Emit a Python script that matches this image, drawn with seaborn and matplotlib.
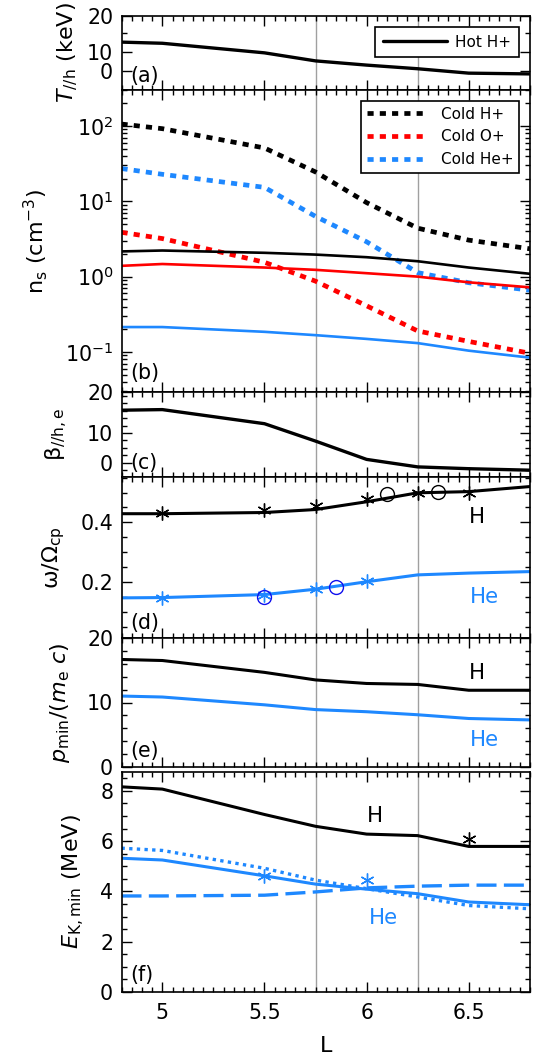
import numpy as np
import pandas as pd
import matplotlib
matplotlib.use("Agg")
import matplotlib.pyplot as plt
from matplotlib.ticker import FixedLocator, FixedFormatter, MultipleLocator, LogLocator, NullFormatter
import seaborn as sns

sns.set_theme(style="ticks")
plt.rcParams["font.family"] = ["DejaVu Sans"]
plt.rcParams["mathtext.fontset"] = "dejavusans"
for k in ("text.color", "axes.labelcolor", "xtick.color", "ytick.color",
          "xtick.labelcolor", "ytick.labelcolor", "axes.edgecolor"):
    plt.rcParams[k] = "black"

# L grid
L = [4.8, 5.0, 5.5, 5.75, 6.0, 6.25, 6.5, 6.8]

# (a) hot H+ parallel temperature (keV)
T_hot = [15.3, 14.7, 9.7, 5.5, 3.3, 1.4, -0.9, -1.3]

# (b) densities (cm^-3)
n_cold_H = [106, 92, 51, 24.5, 9.6, 4.4, 3.05, 2.34]
n_cold_O = [3.87, 3.2, 1.55, 0.87, 0.41, 0.19, 0.138, 0.096]
n_cold_He = [27.2, 22.8, 15.3, 6.3, 2.9, 1.13, 0.83, 0.66]
n_hot_H = [2.16, 2.22, 2.07, 1.96, 1.81, 1.60, 1.32, 1.09]
n_hot_O = [1.39, 1.47, 1.32, 1.23, 1.11, 1.0, 0.84, 0.72]
n_hot_He = [0.214, 0.214, 0.185, 0.167, 0.149, 0.131, 0.104, 0.084]

# (c) beta
beta = [17.6, 17.8, 13.1, 7.3, 1.2, -1.3, -1.9, -2.4]

# (d) omega / Omega_cp
w_H = [0.429, 0.429, 0.433, 0.443, 0.469, 0.499, 0.503, 0.520]
w_He = [0.147, 0.148, 0.158, 0.176, 0.201, 0.224, 0.230, 0.235]
star_H_L = [5.0, 5.5, 5.75, 6.0, 6.25, 6.5]
star_H_w = [0.432, 0.440, 0.454, 0.477, 0.499, 0.499]
star_He_L = [5.0, 5.5, 5.75, 6.0]
star_He_w = [0.145, 0.158, 0.176, 0.204]
circ_H_L = [6.10, 6.35]
circ_H_w = [0.495, 0.503]
circ_He_L = [5.5, 5.85]
circ_He_w = [0.150, 0.184]

# (e) p_min / (m_e c)
p_H = [16.67, 16.51, 14.67, 13.5, 12.95, 12.8, 11.9, 11.9]
p_He = [11.0, 10.85, 9.64, 8.9, 8.57, 8.1, 7.52, 7.3]

# (f) E_K,min (MeV)
E_H = [8.16, 8.07, 7.06, 6.59, 6.28, 6.22, 5.79, 5.79]
E_He = [5.32, 5.25, 4.62, 4.29, 4.09, 3.91, 3.58, 3.47]
E_He_dot = [5.72, 5.63, 4.92, 4.45, 4.11, 3.78, 3.44, 3.31]
E_He_dash = [3.82, 3.82, 3.85, 3.98, 4.14, 4.21, 4.25, 4.25]
starE_H_L = [6.5]
starE_H = [6.08]
starE_He_L = [5.5, 6.0]
starE_He = [4.62, 4.45]

BLUE = "#1E88FF"
GRAY = "#a0a0a0"
TICKFS = 14.8
LABFS = 16
TXTFS = 15.3
star = (6, 2, 0)

fig = plt.figure(figsize=(5.35, 10.59), dpi=100)
H = 1059.0
X0, X1 = 121.5, 530.0


def rect(top, bottom):
    return [X0 / 535, 1 - bottom / H, (X1 - X0) / 535, (bottom - top) / H]


def style(ax, xlabels=False):
    ax.set_xlim(4.8, 6.8)
    ax.xaxis.set_major_locator(MultipleLocator(0.5))
    ax.xaxis.set_minor_locator(MultipleLocator(0.05))
    ax.tick_params(which="both", direction="in", top=True, right=True,
                   labelsize=TICKFS, color="black", labelcolor="black", width=1)
    ax.tick_params(which="major", length=7)
    ax.tick_params(which="minor", length=3.5)
    ax.tick_params(axis="x", pad=8)
    ax.tick_params(axis="y", pad=6)
    if not xlabels:
        ax.tick_params(axis="x", labelbottom=False)
    for s in ax.spines.values():
        s.set_linewidth(1.2)
        s.set_color("black")
    for xv in (5.75, 6.25):
        ax.axvline(xv, color=GRAY, lw=1, zorder=0)


def ylab(ax, s, right_px):
    ax.set_ylabel(s, fontsize=LABFS, color="black")
    ax.yaxis.set_label_coords((right_px - X0) / (X1 - X0), 0.5)


def line(ax, y, color, lw=2.2, ls="-"):
    sns.lineplot(x=L, y=y, ax=ax, color=color, lw=lw, linestyle=ls,
                 estimator=None, sort=False)
    return ax.lines[-1]


def panel_tag(ax, s, yfrac):
    ax.text(0.022, yfrac, s, transform=ax.transAxes, fontsize=TICKFS,
            ha="left", va="bottom", color="black")


# (a)
ax = fig.add_axes(rect(15.5, 90))
style(ax)
h = line(ax, T_hot, "black", lw=2.4)
ax.set_ylim(-9.7, 29.2)
ax.yaxis.set_major_locator(FixedLocator([0, 10, 29.2]))
ax.yaxis.set_major_formatter(FixedFormatter(["0", "10", "20"]))
ax.yaxis.set_minor_locator(FixedLocator([20]))
ylab(ax, r"$T_{//\mathrm{h}}$ (keV)", 80)
leg = ax.legend([h], ["Hot H+"], loc="upper right", fontsize=11,
                frameon=True, fancybox=False, edgecolor="black", framealpha=1,
                handlelength=4.2, handletextpad=0.5, borderaxespad=0.75,
                borderpad=0.5, labelcolor="black")
leg.get_frame().set_linewidth(1.2)
panel_tag(ax, "(a)", 0.05)

# (b)
ax = fig.add_axes(rect(90, 392))
style(ax)
ax.set_yscale("log")
dot = (0, (1.3, 1.3))
h1 = line(ax, n_cold_H, "black", lw=3.4, ls=dot)
h2 = line(ax, n_cold_O, "red", lw=3.4, ls=dot)
h3 = line(ax, n_cold_He, BLUE, lw=3.4, ls=dot)
line(ax, n_hot_H, "black", lw=1.9)
line(ax, n_hot_O, "red", lw=1.9)
line(ax, n_hot_He, BLUE, lw=1.9)
ax.set_ylim(0.0294, 300)
ax.yaxis.set_major_locator(LogLocator(base=10, numticks=10))
ax.yaxis.set_minor_locator(LogLocator(base=10, subs=np.arange(2, 10), numticks=20))
ax.yaxis.set_minor_formatter(NullFormatter())
ylab(ax, r"n$_{\mathrm{s}}$ (cm$^{-3}$)", 50)
leg = ax.legend([h1, h2, h3], ["Cold H+", "Cold O+", "Cold He+"],
                loc="upper right", fontsize=11, frameon=True, fancybox=False,
                edgecolor="black", framealpha=1, handlelength=4.0,
                handletextpad=0.8, borderaxespad=0.7, labelspacing=0.5,
                labelcolor="black")
leg.get_frame().set_linewidth(1.2)
panel_tag(ax, "(b)", 0.03)

# (c)
ax = fig.add_axes(rect(392, 477))
style(ax)
line(ax, beta, "black", lw=2.4)
ax.set_ylim(-4.67, 23.67)
ax.yaxis.set_major_locator(FixedLocator([0, 10, 23.67]))
ax.yaxis.set_major_formatter(FixedFormatter(["0", "10", "20"]))
ax.yaxis.set_minor_locator(MultipleLocator(2.5))
ylab(ax, r"β$_{\mathrm{//h,e}}$", 70)
panel_tag(ax, "(c)", 0.05)

# (d)
ax = fig.add_axes(rect(477, 638))
style(ax)
line(ax, w_H, "black", lw=2.2)
line(ax, w_He, BLUE, lw=2.2)
ax.plot(star_H_L, star_H_w, ls="none", marker=star, ms=10, mew=1, color="black")
ax.plot(star_He_L, star_He_w, ls="none", marker=star, ms=10, mew=1, color=BLUE)
ax.plot(circ_H_L, circ_H_w, ls="none", marker="o", ms=10, mew=1,
        mfc="none", mec="black")
ax.plot(circ_He_L, circ_He_w, ls="none", marker="o", ms=10, mew=1,
        mfc="none", mec="#1010ee")
ax.set_ylim(0.0125, 0.552)
ax.yaxis.set_major_locator(FixedLocator([0.2, 0.4]))
ax.yaxis.set_major_formatter(FixedFormatter(["0.2", "0.4"]))
ax.yaxis.set_minor_locator(MultipleLocator(0.05))
ylab(ax, r"ω/Ω$_{\mathrm{cp}}$", 67)
ax.text(6.54, 0.417, "H", fontsize=TXTFS, color="black", ha="center", va="center")
ax.text(6.575, 0.15, "He", fontsize=TXTFS, color=BLUE, ha="center", va="center")
panel_tag(ax, "(d)", 0.03)

# (e)
ax = fig.add_axes(rect(638, 767))
style(ax)
line(ax, p_H, "black", lw=2.2)
line(ax, p_He, BLUE, lw=2.2)
ax.set_ylim(0, 20)
ax.yaxis.set_major_locator(MultipleLocator(10))
ax.yaxis.set_minor_locator(MultipleLocator(2))
ylab(ax, r"$p_{\mathrm{min}}/(m_{\mathrm{e}}\ c)$", 72)
ax.text(6.54, 14.6, "H", fontsize=TXTFS, color="black", ha="center", va="center")
ax.text(6.575, 4.25, "He", fontsize=TXTFS, color=BLUE, ha="center", va="center")
panel_tag(ax, "(e)", 0.05)

# (f)
ax = fig.add_axes(rect(772, 992))
style(ax, xlabels=True)
line(ax, E_H, "black", lw=2.2)
line(ax, E_He, BLUE, lw=2.2)
line(ax, E_He_dot, BLUE, lw=2.4, ls=(0, (1, 1.3)))
line(ax, E_He_dash, BLUE, lw=2.4, ls=(0, (6, 2.2)))
ax.plot(starE_H_L, starE_H, ls="none", marker=star, ms=10, mew=1, color="black")
ax.plot(starE_He_L, starE_He, ls="none", marker=star, ms=10, mew=1, color=BLUE)
ax.set_ylim(0, 8.75)
ax.yaxis.set_major_locator(MultipleLocator(2))
ax.yaxis.set_minor_locator(MultipleLocator(0.5))
ylab(ax, r"$E_{\mathrm{K,min}}$ (MeV)", 87)
ax.set_xlabel("L", fontsize=LABFS, labelpad=9, color="black")
ax.xaxis.set_major_formatter(matplotlib.ticker.FuncFormatter(lambda v, p: f"{v:g}"))
ax.text(6.04, 7.0, "H", fontsize=TXTFS, color="black", ha="center", va="center")
ax.text(6.08, 2.93, "He", fontsize=TXTFS, color=BLUE, ha="center", va="center")
panel_tag(ax, "(f)", 0.03)

fig.savefig("out.png", dpi=100)
